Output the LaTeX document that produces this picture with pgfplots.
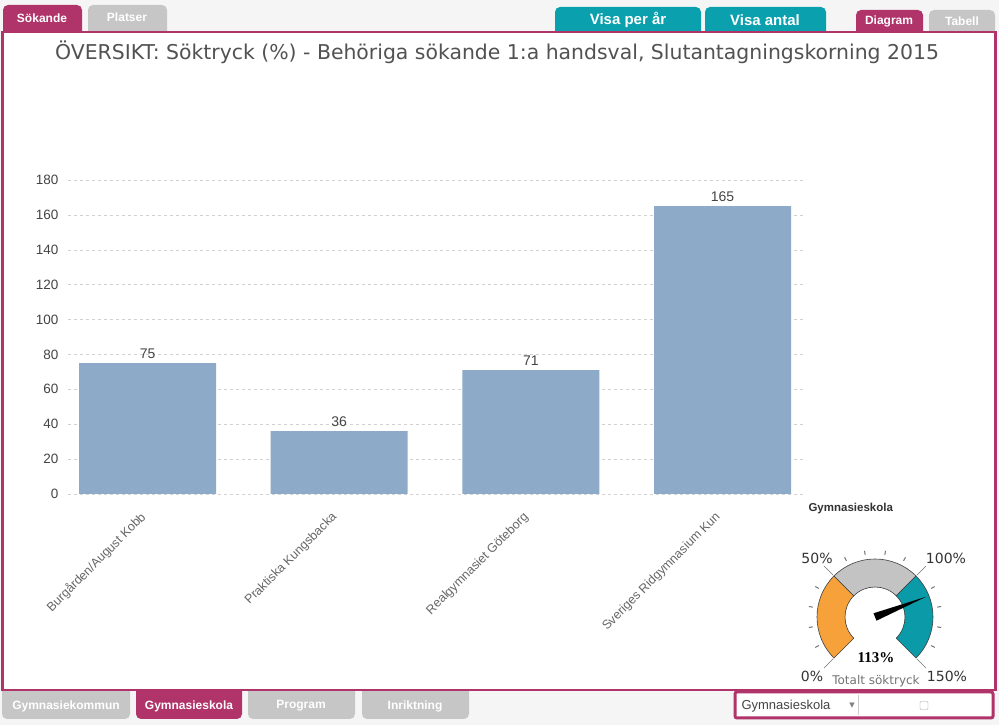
\documentclass[border=0pt]{standalone}
\usepackage{pgfplots}
\pgfplotsset{compat=1.18}
\usepackage{fontspec}
\setmainfont{Liberation Sans}
\newfontfamily\dejavu{DejaVu Sans}
\newfontfamily\serifb{Liberation Serif}
\definecolor{maroon}{HTML}{B0336A}
\definecolor{tabgray}{HTML}{C6C6C6}
\definecolor{tealtab}{HTML}{0AA0AE}
\definecolor{barblue}{HTML}{8EAAC9}
\definecolor{gorange}{HTML}{F6A13A}
\definecolor{ggrey}{HTML}{C3C3C3}
\definecolor{gteal}{HTML}{0A9AA8}
\definecolor{txt}{HTML}{444444}
\definecolor{bg}{HTML}{F5F5F5}
\begin{document}
\begin{tikzpicture}[x=1pt,y=1pt]
\useasboundingbox (0,0) rectangle (999,725);
\fill[bg] (0,0) rectangle (999,725);
% ---- top tabs (y coords = 725 - pixel y)
\fill[maroon, rounded corners=5pt] (3,680) rectangle (82,720);
\node[text=white, font=\bfseries\fontsize{12}{12}\selectfont] at (42,707) {Sökande};
\fill[tabgray, rounded corners=5pt] (88,680) rectangle (167,720);
\node[text=white, font=\bfseries\fontsize{12}{12}\selectfont] at (127,708) {Platser};
\fill[tealtab, rounded corners=5pt] (555,680) rectangle (701,718);
\node[text=white, font=\bfseries\fontsize{15}{15}\selectfont] at (628,705) {Visa per år};
\fill[tealtab, rounded corners=5pt] (705,680) rectangle (826,718);
\node[text=white, font=\bfseries\fontsize{15}{15}\selectfont] at (765,705) {Visa antal};
\fill[maroon, rounded corners=5pt] (856,680) rectangle (923,715);
\node[text=white, font=\bfseries\fontsize{12}{12}\selectfont] at (889,704) {Diagram};
\fill[tabgray, rounded corners=5pt] (929,680) rectangle (995,715);
\node[text=white, font=\bfseries\fontsize{12}{12}\selectfont] at (962,704) {Tabell};
% ---- bottom tabs
\fill[tabgray, rounded corners=5pt] (2,6) rectangle (130,45);
\node[text=white, font=\bfseries\fontsize{12}{12}\selectfont] at (66,19) {Gymnasiekommun};
\fill[maroon, rounded corners=5pt] (136,6) rectangle (242,45);
\node[text=white, font=\bfseries\fontsize{12}{12}\selectfont] at (189,19) {Gymnasieskola};
\fill[tabgray, rounded corners=5pt] (248,6) rectangle (355,45);
\node[text=white, font=\bfseries\fontsize{12}{12}\selectfont] at (301,19) {Program};
\fill[tabgray, rounded corners=5pt] (362,6) rectangle (469,45);
\node[text=white, font=\bfseries\fontsize{12}{12}\selectfont] at (415,19) {Inriktning};
% ---- main panel
\filldraw[fill=white, draw=maroon, line width=2.5pt] (2.5,35) rectangle (995.5,693);
% ---- bottom right box
\filldraw[fill=white, draw=maroon, line width=3pt, rounded corners=2pt] (735,7) rectangle (993,33);
\node[anchor=west, text=txt, font=\fontsize{13}{13}\selectfont] at (738,19) {Gymnasieskola};
\node[text=gray, font=\dejavu\fontsize{7}{7}\selectfont] at (852,19) {▼};
\draw[gray!40] (858,10) -- (858,30);
\draw[gray!70, rounded corners=1pt] (920,15.5) rectangle (928,23.5);
% ---- title
\node[text=black!68, font=\dejavu\fontsize{20.4}{20.4}\selectfont] at (497,673) {ÖVERSIKT: Söktryck (\%) - Behöriga sökande 1:a handsval, Slutantagningskorning 2015};
% ---- chart
\begin{axis}[
  at={(68pt,231pt)}, anchor=south west,
  scale only axis, width=737pt, height=314pt,
  ymin=0, ymax=180, xmin=-0.415, xmax=3.43,
  ytick={0,20,...,180},
  xtick={0,1,2,3},
  xticklabels={Burgården/August Kobb, Praktiska Kungsbacka, Realgymnasiet Göteborg, Sveriges Ridgymnasium Kun},
  axis line style={draw=none},
  major tick length=0pt,
  ymajorgrids, grid style={dashed, color=black!18},
  /pgf/number format/assume math mode=true,
  yticklabel style={font=\fontsize{13.5}{13.5}\selectfont, text=txt, xshift=-6pt},
  xticklabel style={rotate=45, anchor=north east, font=\fontsize{12.5}{12.5}\selectfont, text=black!60, xshift=-14.5pt, yshift=-2.5pt},
  xlabel={Gymnasieskola},
  xlabel style={at={(rel axis cs:1,0)}, anchor=north west, xshift=0pt, yshift=-6pt, font=\bfseries\fontsize{11.5}{11.5}\selectfont, text=black!80},
  ybar, bar width=137pt,
  nodes near coords,
  every node near coord/.append style={font=\fontsize{14}{14}\selectfont, text=txt, yshift=1pt},
]
\addplot[fill=barblue, draw=none] coordinates {(0,75) (1,36) (2,71) (3,165)};
\end{axis}
% ---- gauge (value 113 %)
\begin{scope}[shift={(875,108)}]
\draw[fill=gorange, draw=black!75, line width=0.6pt] (225:58) arc[start angle=225,end angle=135,radius=58] -- (135:30) arc[start angle=135,end angle=225,radius=30] -- cycle;
\draw[fill=ggrey, draw=black!75, line width=0.6pt] (135:58) arc[start angle=135,end angle=45,radius=58] -- (45:30) arc[start angle=45,end angle=135,radius=30] -- cycle;
\draw[fill=gteal, draw=black!75, line width=0.6pt] (45:58) arc[start angle=45,end angle=-45,radius=58] -- (-45:30) arc[start angle=-45,end angle=45,radius=30] -- cycle;
\foreach \p in {10,20,30,40,60,70,80,90,110,120,130,140} {
  \draw[black!55, line width=1pt] ({225-\p*1.8}:63) -- ({225-\p*1.8}:67);
}
\foreach \p in {0,50,100,150} {
  \draw[black!55, line width=0.6pt] ({225-\p*1.8}:59) -- ({225-\p*1.8}:72);
}
\fill[black] ({225-113*1.8+90}:4) -- ({225-113*1.8}:55) -- ({225-113*1.8-90}:4) -- cycle;
\node[font=\dejavu\fontsize{14}{14}\selectfont, text=black!80] at (-58,59) {50\%};
\node[font=\dejavu\fontsize{14}{14}\selectfont, text=black!80] at (71,59) {100\%};
\node[font=\dejavu\fontsize{14}{14}\selectfont, text=black!80] at (-63,-59) {0\%};
\node[font=\dejavu\fontsize{14}{14}\selectfont, text=black!80] at (72,-59) {150\%};
\node[font=\serifb\bfseries\fontsize{15}{15}\selectfont] at (1,-41) {113\%};
\node[font=\dejavu\fontsize{12}{12}\selectfont, text=black!55] at (1,-64) {Totalt söktryck};
\end{scope}
\end{tikzpicture}
\end{document}
